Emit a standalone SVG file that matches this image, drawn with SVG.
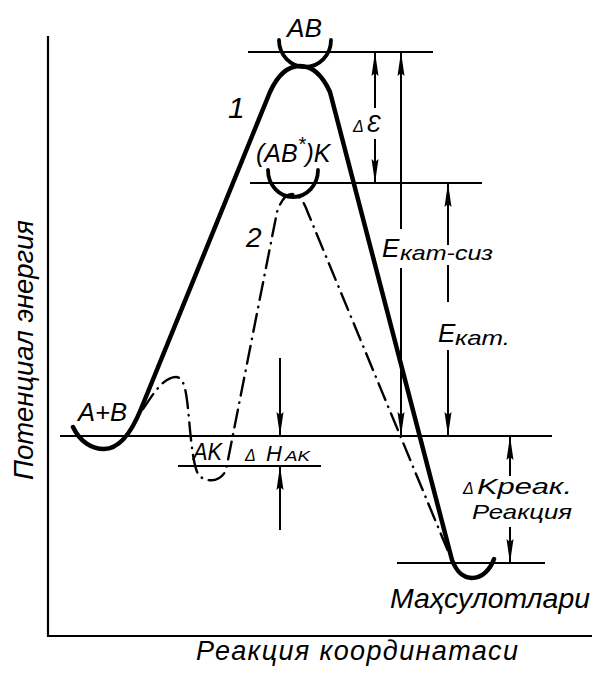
<svg xmlns="http://www.w3.org/2000/svg" width="597" height="675" viewBox="0 0 597 675">
<style>
text{font-family:"Liberation Sans",Arial,sans-serif;font-style:italic;fill:#000}
.ax{stroke:#000;stroke-width:2.2;fill:none}
.hl{stroke:#000;stroke-width:2;fill:none}
.ar{stroke:#000;stroke-width:2;fill:none}
.arh{stroke:#000;stroke-width:2;fill:none;marker-end:url(#ah)}
.c1{stroke:#000;stroke-width:4.5;fill:none;stroke-linecap:round;stroke-linejoin:round}
.bowl{stroke:#000;stroke-width:3.8;fill:none;stroke-linecap:round}
.c2{stroke:#000;stroke-width:2.4;fill:none;stroke-linecap:round;stroke-dasharray:18 7 0.5 7}
</style>
<defs>
<marker id="ah" viewBox="0 0 24 8" refX="23" refY="4" markerWidth="24" markerHeight="8" markerUnits="userSpaceOnUse" orient="auto">
<path d="M0,0.5 L24,4 L0,7.5 L3,4 z" fill="#000"/>
</marker>
</defs>
<rect width="597" height="675" fill="#fff"/>
<g id="axes">
<path class="ax" d="M48,36 L48,636 L592,636"/>
</g>
<g id="levels">
<path class="hl" d="M248,52 L433,52"/>
<path class="hl" d="M250,183 L482,183"/>
<path class="hl" d="M60,436 L552,436"/>
<path class="hl" d="M178,466 L321,466"/>
<path class="hl" d="M397,563 L545,563"/>
</g>
<g id="connectors">
<path class="c1" d="M73,427 C80,442 92,449 104,449 C118,449 130,436 141,409 L270,92 C280,70 292,66 300,66 C308,66 320,70 330,92 L452,560 C458,575 465,578 472,578 C482,578 490,570 494,559"/>
<path class="c2" d="M143,409 C152,396 163,377 176,377 C186,377 187,398 190,430 C192,450 194,466 198,474 C203,482 220,484 226,470 L277,212 C282,198 287,194 292,194 C298,194 303,199 308,213 L450,556"/>
<path class="bowl" d="M279,40 A26,27 0 0 0 331,40"/>
<path class="bowl" d="M268,170 A25,27 0 0 0 318,170"/>
<path class="arh" d="M375,108 L375,53"/>
<path class="arh" d="M375,139 L375,182"/>
<path class="arh" d="M401,229 L401,53"/>
<path class="arh" d="M401,268 L401,435"/>
<path class="arh" d="M448,245 L448,184"/>
<path class="ar" d="M448,265 L448,302"/>
<path class="arh" d="M448,350 L448,435"/>
<path class="arh" d="M510,476 L510,437"/>
<path class="arh" d="M510,527 L510,562"/>
<path class="arh" d="M280,358 L280,435"/>
<path class="arh" d="M280,530 L280,467"/>
</g>
<g id="labels">
<text x="287" y="37" font-size="25" textLength="35" lengthAdjust="spacingAndGlyphs">AB</text>
<text x="228" y="118" font-size="30">1</text>
<text x="353" y="132"><tspan font-size="16">Δ</tspan><tspan font-size="23" dx="3">Ɛ</tspan></text>
<text x="256" y="162" font-size="25">(AB<tspan font-size="20" dy="-11">*</tspan><tspan dy="11">)K</tspan></text>
<text x="246" y="247" font-size="28">2</text>
<text x="382" y="257" font-size="26">E</text>
<text x="400" y="260" font-size="21" textLength="93" lengthAdjust="spacingAndGlyphs">кат-сиз</text>
<text x="438" y="342" font-size="26">E</text>
<text x="455" y="345" font-size="21" textLength="55" lengthAdjust="spacingAndGlyphs">кат.</text>
<text x="78" y="421" font-size="25" textLength="49" lengthAdjust="spacingAndGlyphs">A+B</text>
<text x="193" y="460" font-size="24" textLength="29" lengthAdjust="spacingAndGlyphs">AK</text>
<text x="245" y="461" font-size="16">Δ</text>
<text x="266" y="461" font-size="22">H</text>
<text x="285" y="461" font-size="14" textLength="25" lengthAdjust="spacingAndGlyphs">AK</text>
<text x="463" y="494" font-size="16">Δ</text>
<text x="477" y="494" font-size="22" textLength="95" lengthAdjust="spacingAndGlyphs">Kреак.</text>
<text x="472" y="519" font-size="21" textLength="100" lengthAdjust="spacingAndGlyphs">Реакция</text>
<text x="390" y="608" font-size="27" textLength="200" lengthAdjust="spacingAndGlyphs">Маҳсулотлари</text>
<text x="196" y="660" font-size="27" textLength="322" lengthAdjust="spacing">Реакция координатаси</text>
<text transform="translate(33,350) rotate(-90)" text-anchor="middle" font-size="27" textLength="260" lengthAdjust="spacingAndGlyphs">Потенциал энергия</text>
</g>
</svg>
